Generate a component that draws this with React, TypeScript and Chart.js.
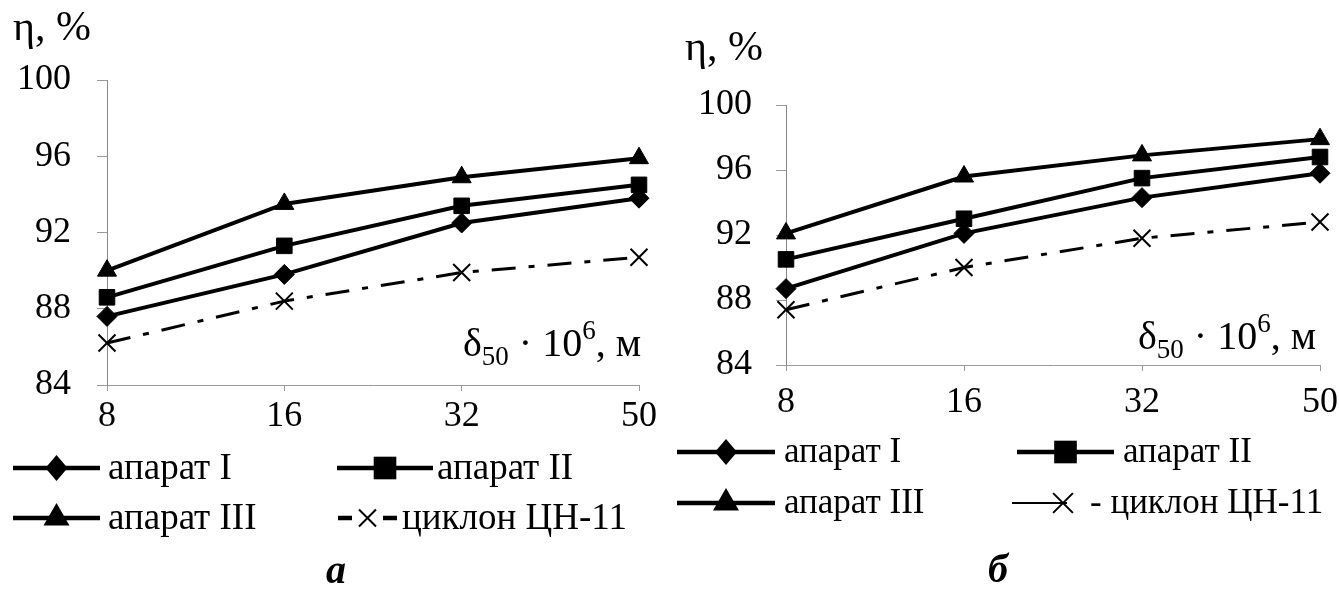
import React, { useEffect, useRef } from "react";
import { Chart, registerables } from "chart.js";

Chart.register(...registerables);

const SERIF = '"Liberation Serif", "Times New Roman", Times, "DejaVu Serif", serif';

// ---------- data ----------
const categories = ["8", "16", "32", "50"];
const yMin = 84;
const yMax = 100;
const yStep = 4;

const seriesLabels = ["апарат I", "апарат II", "апарат III", "циклон ЦН-11"];
const legendTextsA = ["апарат I", "апарат II", "апарат III", "циклон ЦН-11"];
const legendTextsB = ["апарат I", "апарат II", "апарат III", "- циклон ЦН-11"];
const pointStyles = ["rectRot", "rect", "triangle", "crossRot"];

const yAxisTitle = "η, %";
const xTitleSymbol = "δ";
const xTitleSub = "50";
const xTitleMid = " · 10";
const xTitleSup = "6";
const xTitleUnit = ", м";
const captionA = "а";
const captionB = "б";

// panel а
const aparat1A = [87.6, 89.8, 92.5, 93.8];
const aparat2A = [88.6, 91.3, 93.4, 94.5];
const aparat3A = [90.0, 93.5, 94.9, 95.9];
const cycloneA = [86.2, 88.4, 89.9, 90.7];

// panel б
const aparat1B = [88.7, 92.1, 94.3, 95.8];
const aparat2B = [90.5, 93.0, 95.5, 96.8];
const aparat3B = [92.1, 95.6, 96.9, 97.9];
const cycloneB = [87.4, 90.0, 91.8, 92.8];

// ---------- helpers ----------
function drawMarker(ctx: CanvasRenderingContext2D, style: string, x: number, y: number, r: number) {
  ctx.save();
  ctx.fillStyle = "#000";
  ctx.strokeStyle = "#000";
  ctx.beginPath();
  if (style === "rectRot") {
    ctx.moveTo(x, y - r);
    ctx.lineTo(x + r * 0.85, y);
    ctx.lineTo(x, y + r);
    ctx.lineTo(x - r * 0.85, y);
    ctx.closePath();
    ctx.fill();
  } else if (style === "rect") {
    const s = r * Math.SQRT1_2;
    ctx.rect(x - s, y - s, 2 * s, 2 * s);
    ctx.fill();
  } else if (style === "triangle") {
    const c = Math.cos(Math.PI / 6) * r;
    ctx.moveTo(x, y - r);
    ctx.lineTo(x + c, y + r / 2);
    ctx.lineTo(x - c, y + r / 2);
    ctx.closePath();
    ctx.fill();
  } else {
    const d = r * Math.SQRT1_2;
    ctx.lineWidth = 2;
    ctx.moveTo(x - d, y - d);
    ctx.lineTo(x + d, y + d);
    ctx.moveTo(x + d, y - d);
    ctx.lineTo(x - d, y + d);
    ctx.stroke();
  }
  ctx.restore();
}

const decorPlugin = {
  id: "decor",
  afterDraw(chart: any, _args: any, o: any) {
    const ctx: CanvasRenderingContext2D = chart.ctx;
    ctx.save();
    ctx.fillStyle = "#000";
    ctx.strokeStyle = "#000";

    // y axis title
    ctx.font = `42px ${SERIF}`;
    ctx.textAlign = "left";
    ctx.textBaseline = "alphabetic";
    ctx.fillText(yAxisTitle, o.yTitle.x, o.yTitle.y);

    // x axis title (composite, right aligned)
    const parts = [
      { t: xTitleSymbol, size: 40, dy: 0 },
      { t: xTitleSub, size: 27, dy: 9 },
      { t: xTitleMid, size: 40, dy: 0 },
      { t: xTitleSup, size: 27, dy: -17 },
      { t: xTitleUnit, size: 40, dy: 0 },
    ];
    let total = 0;
    const widths = parts.map((p) => {
      ctx.font = `${p.size}px ${SERIF}`;
      const w = ctx.measureText(p.t).width;
      total += w;
      return w;
    });
    let cx = o.xTitle.right - total;
    parts.forEach((p, i) => {
      ctx.font = `${p.size}px ${SERIF}`;
      ctx.fillText(p.t, cx, o.xTitle.y + p.dy);
      cx += widths[i];
    });

    // legend
    const datasets = chart.data.datasets;
    datasets.forEach((ds: any, i: number) => {
      const row = Math.floor(i / 2);
      const col = i % 2;
      const y = o.legend.rows[row];
      const isCyc = ds.pointStyle === "crossRot";
      const c = isCyc ? o.legend.cyclone : o.legend.cols[col];
      const mid = (c.sx + c.ex) / 2;
      ctx.save();
      ctx.strokeStyle = "#000";
      ctx.lineCap = "butt";
      if (!isCyc) {
        ctx.lineWidth = 4.5;
        ctx.beginPath();
        ctx.moveTo(c.sx, y);
        ctx.lineTo(c.ex, y);
        ctx.stroke();
        const r = ds.pointStyle === "rect" ? 16 : ds.pointStyle === "triangle" ? 15 : 13;
        drawMarker(ctx, ds.pointStyle, mid, y, r);
      } else if (o.legend.cycloneStyle === "dash") {
        ctx.lineWidth = 4.5;
        ctx.beginPath();
        ctx.moveTo(c.sx, y);
        ctx.lineTo(c.sx + 14, y);
        ctx.moveTo(c.ex - 14, y);
        ctx.lineTo(c.ex, y);
        ctx.stroke();
        drawMarker(ctx, "crossRot", mid, y, 12);
      } else {
        ctx.lineWidth = 2;
        ctx.beginPath();
        ctx.moveTo(c.sx, y);
        ctx.lineTo(c.ex - 10, y);
        ctx.stroke();
        drawMarker(ctx, "crossRot", c.ex - 14, y, 14);
      }
      ctx.restore();
      ctx.font = `${o.legend.fontSize}px ${SERIF}`;
      ctx.textAlign = "left";
      ctx.textBaseline = "middle";
      ctx.fillText(o.legend.texts[i], c.tx, y + 1, chart.width - c.tx - 3);
    });

    // caption
    ctx.font = `bold italic 40px ${SERIF}`;
    ctx.textAlign = "center";
    ctx.textBaseline = "alphabetic";
    ctx.fillText(o.caption.text, o.caption.x, o.caption.y);
    ctx.restore();
  },
};

type Panel = {
  canvasLeft: number;
  width: number;
  area: { left: number; right: number; top: number; bottom: number };
  yTickPad: number;
  xTickPad: number;
  values: number[][];
  decor: any;
};

const H = 602;
const X_AXIS_H = 60;

function buildConfig(p: Panel): any {
  const datasets = p.values.map((vals, i) => {
    const cyc = pointStyles[i] === "crossRot";
    return {
      label: seriesLabels[i],
      data: vals,
      borderColor: "#000",
      backgroundColor: "#000",
      borderWidth: cyc ? 3 : 4,
      borderDash: cyc ? [24, 13, 6, 13] : [],
      pointStyle: pointStyles[i],
      pointRadius: cyc ? 12 : pointStyles[i] === "rectRot" ? 10 : 11,
      pointBorderWidth: cyc ? 2 : 1,
      pointBackgroundColor: "#000",
      pointBorderColor: "#000",
      tension: 0,
      clip: false,
    };
  });
  return {
    type: "line",
    data: { labels: categories, datasets },
    plugins: [decorPlugin],
    options: {
      responsive: false,
      animation: false,
      devicePixelRatio: 1,
      layout: {
        padding: {
          left: 0,
          top: p.area.top,
          right: p.width - p.area.right,
          bottom: H - p.area.bottom - X_AXIS_H,
        },
      },
      plugins: {
        legend: { display: false },
        tooltip: { enabled: false },
        decor: p.decor,
      },
      scales: {
        x: {
          type: "category",
          offset: false,
          grid: { drawOnChartArea: false, drawTicks: true, tickLength: 6, color: "#999", lineWidth: 1 },
          border: { display: true, color: "#999", width: 1, dash: [4, 3] },
          ticks: {
            color: "#000",
            font: { family: SERIF, size: 36 },
            padding: p.xTickPad,
            maxRotation: 0,
            autoSkip: false,
          },
          afterFit: (s: any) => {
            s.height = X_AXIS_H;
            s.paddingLeft = 0;
            s.paddingRight = 0;
          },
        },
        y: {
          type: "linear",
          min: yMin,
          max: yMax,
          ticks: {
            stepSize: yStep,
            color: "#000",
            font: { family: SERIF, size: 36 },
            padding: p.yTickPad,
          },
          grid: { drawOnChartArea: false, drawTicks: true, tickLength: 10, color: "#999", lineWidth: 1 },
          border: { display: true, color: "#888", width: 1 },
          afterFit: (s: any) => {
            s.width = p.area.left;
            s.paddingTop = 0;
            s.paddingBottom = 0;
          },
        },
      },
    },
  };
}

const panelA: Panel = {
  canvasLeft: 0,
  width: 670,
  area: { left: 107, right: 639, top: 80, bottom: 385 },
  yTickPad: 26,
  xTickPad: 4,
  values: [aparat1A, aparat2A, aparat3A, cycloneA],
  decor: {
    yTitle: { x: 13, y: 40 },
    xTitle: { right: 641, y: 356 },
    legend: {
      rows: [468, 518],
      cols: [
        { sx: 13, ex: 100, tx: 108 },
        { sx: 337, ex: 433, tx: 437 },
      ],
      cyclone: { sx: 338, ex: 397, tx: 402 },
      cycloneStyle: "dash",
      fontSize: 37,
      texts: legendTextsA,
    },
    caption: { text: captionA, x: 336, y: 583 },
  },
};

const panelB: Panel = {
  canvasLeft: 670,
  width: 669,
  area: { left: 116, right: 650, top: 105, bottom: 365 },
  yTickPad: 24,
  xTickPad: 10,
  values: [aparat1B, aparat2B, aparat3B, cycloneB],
  decor: {
    yTitle: { x: 15, y: 60 },
    xTitle: { right: 646, y: 349 },
    legend: {
      rows: [452, 503],
      cols: [
        { sx: 7, ex: 105, tx: 114 },
        { sx: 347, ex: 444, tx: 453 },
      ],
      cyclone: { sx: 342, ex: 407, tx: 420 },
      cycloneStyle: "line",
      fontSize: 35,
      texts: legendTextsB,
    },
    caption: { text: captionB, x: 328, y: 582 },
  },
};

function ChartPanel({ panel }: { panel: Panel }) {
  const ref = useRef<HTMLCanvasElement | null>(null);
  useEffect(() => {
    let chart: Chart | null = null;
    let cancelled = false;
    const make = () => {
      if (cancelled || !ref.current) return;
      chart = new Chart(ref.current, buildConfig(panel));
    };
    const fonts: any = (document as any).fonts;
    if (fonts && fonts.load) {
      Promise.all([
        fonts.load(`36px ${SERIF}`, "апарат 100 ηδм"),
        fonts.load(`bold italic 38px ${SERIF}`, "аб"),
      ])
        .catch(() => undefined)
        .then(make);
    } else {
      make();
    }
    return () => {
      cancelled = true;
      if (chart) chart.destroy();
    };
  }, [panel]);
  return (
    <canvas
      ref={ref}
      width={panel.width}
      height={H}
      style={{ position: "absolute", left: panel.canvasLeft, top: 0, width: panel.width, height: H }}
    />
  );
}

export default function App() {
  return (
    <div style={{ position: "absolute", left: 0, top: 0, width: 1339, height: H, background: "#fff" }}>
      <span
        style={{ position: "absolute", left: -9999, top: 0, fontFamily: SERIF, fontSize: 36 }}
        aria-hidden="true"
      >
        апарат 100 ηδм <b><i>аб</i></b>
      </span>
      <ChartPanel panel={panelA} />
      <ChartPanel panel={panelB} />
    </div>
  );
}
